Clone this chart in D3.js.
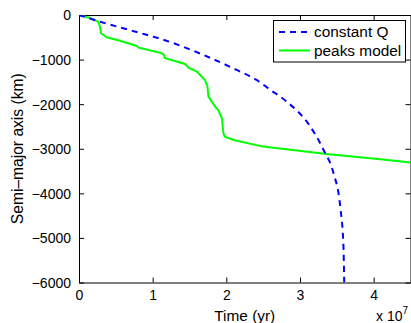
<!DOCTYPE html>
<html>
<head>
<meta charset="UTF-8">
<style>
  body { margin: 0; background: #fff; }
  text { font-family: "Liberation Sans", Arial, sans-serif; fill: #000; }
</style>
</head>
<body>
<script src="https://d3js.org/d3.v7.min.js"></script>
<script>
// data (time in units of 1e7 yr, semi-major axis change in km)
var timeQ  = [0, 0.285, 0.78, 1.236, 1.69, 2.14, 2.41, 2.6, 2.82, 3.14, 3.32, 3.455, 3.546, 3.59, 3.6];
var semiQ  = [0, -150, -381, -605, -897, -1233, -1457, -1682, -1943, -2504, -3027, -3550, -4297, -5195, -6000];
var timePeaks = [0, 0.15, 0.26, 0.285, 0.3, 0.376, 0.557, 0.784, 0.81, 1.1, 1.146, 1.17, 1.44, 1.485, 1.6, 1.71, 1.744, 1.757, 1.848, 1.89, 1.94, 1.96, 1.98, 2.1, 2.5, 3.36, 4.09, 4.5];
var semiPeaks = [0, -67, -150, -262, -410, -500, -576, -695, -733, -845, -882, -971, -1099, -1181, -1271, -1457, -1607, -1832, -2056, -2130, -2316, -2653, -2728, -2803, -2952, -3117, -3236, -3311];
var xTicks = [0, 1, 2, 3, 4];
var yTicks = [0, -1000, -2000, -3000, -4000, -5000, -6000];
var seriesNames = ["constant Q", "peaks model"];
var seriesColors = ["#0000ff", "#00ff00"];

var width = 411, height = 323;
var margin = {left: 79, right: 0.5, top: 15, bottom: 40.5};

var svg = d3.select("body").append("svg")
  .attr("width", width).attr("height", height);

var x = d3.scaleLinear().domain([0, 4.5]).range([margin.left, width - margin.right]);
var y = d3.scaleLinear().domain([-6000, 0]).range([height - margin.bottom, margin.top]);

svg.append("defs").append("clipPath").attr("id", "clip")
  .append("rect")
  .attr("x", x(0)).attr("y", y(0))
  .attr("width", x(4.5) - x(0)).attr("height", y(-6000) - y(0));

var fmt = function(d) { return d < 0 ? "\u2212" + Math.abs(d) : d; };

// bottom axis
var gx = svg.append("g")
  .attr("transform", "translate(0," + y(-6000) + ")")
  .call(d3.axisBottom(x).tickValues(xTicks).tickSizeInner(-5).tickSizeOuter(0).tickPadding(8).tickFormat(fmt));
// top axis (ticks only)
var gxt = svg.append("g")
  .attr("transform", "translate(0," + y(0) + ")")
  .call(d3.axisTop(x).tickValues(xTicks).tickSizeInner(-5).tickSizeOuter(0).tickFormat(""));
// left axis
var gy = svg.append("g")
  .attr("transform", "translate(" + x(0) + ",0)")
  .call(d3.axisLeft(y).tickValues(yTicks).tickSizeInner(-5).tickSizeOuter(0).tickPadding(8).tickFormat(fmt));
// right axis (ticks only)
var gyr = svg.append("g")
  .attr("transform", "translate(" + x(4.5) + ",0)")
  .call(d3.axisRight(y).tickValues(yTicks).tickSizeInner(-5).tickSizeOuter(0).tickFormat(""));

[gx, gxt, gy, gyr].forEach(function(g) {
  g.selectAll("text").style("font-size", "14px").style("font-family", "'Liberation Sans', Arial, sans-serif").attr("fill", "#000");
  g.selectAll("line").attr("stroke", "#000");
  g.select(".domain").attr("stroke", "#000");
});
gy.selectAll(".tick text").attr("dy", "0.35em");

// plot lines
var line = d3.line().x(function(d) { return x(d[0]); }).y(function(d) { return y(d[1]); });
var plot = svg.append("g").attr("clip-path", "url(#clip)");

plot.append("path")
  .datum(timePeaks.map(function(t, i) { return [t, semiPeaks[i]]; }))
  .attr("d", line.curve(d3.curveLinear))
  .attr("fill", "none").attr("stroke", seriesColors[1]).attr("stroke-width", 2);

plot.append("path")
  .datum(timeQ.map(function(t, i) { return [t, semiQ[i]]; }))
  .attr("d", line.curve(d3.curveMonotoneX))
  .attr("fill", "none").attr("stroke", seriesColors[0]).attr("stroke-width", 2)
  .attr("stroke-dasharray", "6,5");

// axis labels
svg.append("text")
  .attr("x", (x(0) + x(4.5)) / 2).attr("y", 321)
  .attr("text-anchor", "middle").style("font-size", "15.4px")
  .text("Time (yr)");

svg.append("text")
  .attr("transform", "translate(23," + (y(-3000)) + ") rotate(-90)")
  .attr("text-anchor", "middle").style("font-size", "15.6px")
  .text("Semi\u2013major axis (km)");

var ex = svg.append("text").attr("x", 376).attr("y", 321).style("font-size", "14px");
ex.append("tspan").text("x 10");
ex.append("tspan").attr("dy", -7).style("font-size", "10px").text("7");

// legend
var lg = svg.append("g");
lg.append("rect").attr("x", 273.5).attr("y", 20.5).attr("width", 132).attr("height", 41.5)
  .attr("fill", "#fff").attr("stroke", "#000");
seriesNames.forEach(function(name, i) {
  var yy = 32 + i * 18.5;
  lg.append("line").attr("x1", 279).attr("x2", 310).attr("y1", yy).attr("y2", yy)
    .attr("stroke", seriesColors[i]).attr("stroke-width", 2)
    .attr("stroke-dasharray", i === 0 ? "6,5" : null);
  lg.append("text").attr("x", 314).attr("y", yy).attr("dy", "0.35em")
    .style("font-size", "15.4px").text(name);
});
</script>
</body>
</html>
